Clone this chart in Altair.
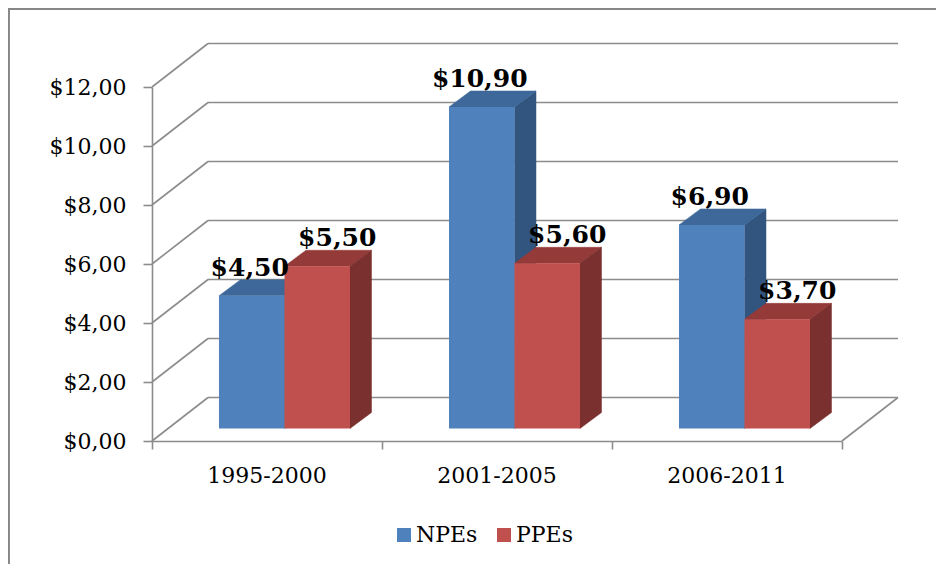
import altair as alt
import pandas as pd

# ---- data ----
categories = ["1995-2000", "2001-2005", "2006-2011"]
series = ["NPEs", "PPEs"]
npes = [4.5, 10.9, 6.9]
ppes = [5.5, 5.6, 3.7]
y_ticks = [0, 2, 4, 6, 8, 10, 12]

# ---- style constants ----
W, H = 690, 354
YMAX = 12
NCAT = len(categories)
PXX = W / NCAT          # px per category unit
PXY = H / YMAX          # px per value unit

BAR_W = 65.5 / PXX
GAP = (1 - 2 * BAR_W) / 2
BAR_OX = 17.5 / PXX
BAR_OY = 12.5 / PXY
BAR_DX = 21.5 / PXX
BAR_DY = 16.0 / PXY
WALL_DX = 56.0 / PXX
WALL_DY = 43.5 / PXY

FRONT = {"NPEs": "#4F81BD", "PPEs": "#C0504D"}
TOP = {"NPEs": "#3E6899", "PPEs": "#943A38"}
SIDE = {"NPEs": "#31557F", "PPEs": "#7A302E"}
GRID = "#8c8c8c"
FONT = "DejaVu Serif"

values = {"NPEs": npes, "PPEs": ppes}

# ---- derived tables ----
bar_rows, depth_rows = [], []
for ci, cat in enumerate(categories):
    for si, s in enumerate(series):
        v = values[s][ci]
        xl = ci + GAP + si * BAR_W + BAR_OX
        xr = xl + BAR_W
        bot = BAR_OY
        top = BAR_OY + v
        bid = f"{s}-{ci}"
        bar_rows.append(dict(id=bid, series=s, cat=cat, v=v, xl=xl, xr=xr,
                             bot=bot, top=top, xc=(xl + xr) / 2))
        for k in (0, 1):
            depth_rows.append(dict(id=bid, series=s, k=k,
                                   tx=xl + k * BAR_DX, tx2=xr + k * BAR_DX,
                                   ty=top + k * BAR_DY,
                                   sx=xr + k * BAR_DX,
                                   sy=top + k * BAR_DY, sy2=bot + k * BAR_DY))
bars = pd.DataFrame(bar_rows)
depth = pd.DataFrame(depth_rows)

grid = pd.DataFrame({"v": y_ticks})
grid["vb"] = grid["v"] + WALL_DY
grid["x0"] = 0.0
grid["xw"] = WALL_DX
grid["xe"] = NCAT + WALL_DX

floor_edge = pd.DataFrame({"x": [float(NCAT)], "x2": [NCAT + WALL_DX],
                           "y": [0.0], "y2": [WALL_DY]})
cats = pd.DataFrame({"cat": categories,
                     "xc": [i + 0.5 for i in range(NCAT)],
                     "y": [0.0] * NCAT})

xs = alt.Scale(domain=[0, NCAT], nice=False, zero=False)
ys = alt.Scale(domain=[0, YMAX], nice=False, zero=False)

AX = alt.Axis(values=list(range(NCAT + 1)), labels=False, title=None,
              grid=False, tickSize=8, tickColor=GRID, tickWidth=1.6,
              domainColor=GRID, domainWidth=1.6)
AY = alt.Axis(values=y_ticks, title=None, grid=False, domain=True,
              domainColor=GRID, domainWidth=1.6,
              tickSize=9, tickColor=GRID, tickWidth=1.6,
              labelExpr="'$' + replace(format(datum.value, '.2f'), '.', ',')",
              labelFont=FONT, labelFontSize=22, labelColor="black",
              labelPadding=17)


def X(f):
    return alt.X(f, scale=xs, axis=AX)


def Y(f):
    return alt.Y(f, scale=ys, axis=AY)


# ---- layers ----
grid_diag = alt.Chart(grid).mark_rule(color=GRID, strokeWidth=1.6).encode(
    x=X("x0:Q"), x2="xw:Q", y=Y("v:Q"), y2="vb:Q")
grid_back = alt.Chart(grid).mark_rule(color=GRID, strokeWidth=1.6).encode(
    x=X("xw:Q"), x2="xe:Q", y=Y("vb:Q"))
floor_right = alt.Chart(floor_edge).mark_rule(color=GRID, strokeWidth=1.6).encode(
    x=X("x:Q"), x2="x2:Q", y=Y("y:Q"), y2="y2:Q")


def side_layer(s):
    return alt.Chart(depth).transform_filter(alt.datum.series == s).mark_area(
        orient="vertical", interpolate="linear", fill=SIDE[s],
        stroke=SIDE[s], strokeWidth=0.5
    ).encode(x=X("sx:Q"), y=Y("sy:Q"), y2="sy2:Q", detail="id:N")


def top_layer(s):
    return alt.Chart(depth).transform_filter(alt.datum.series == s).mark_area(
        orient="horizontal", interpolate="linear", fill=TOP[s],
        stroke=TOP[s], strokeWidth=0.5
    ).encode(y=Y("ty:Q"), x=X("tx:Q"), x2="tx2:Q", detail="id:N")


front = alt.Chart(bars).mark_rect().encode(
    x=X("xl:Q"), x2="xr:Q", y=Y("top:Q"), y2="bot:Q",
    color=alt.Color("series:N",
                    scale=alt.Scale(domain=series, range=[FRONT[s] for s in series]),
                    legend=alt.Legend(orient="none", legendX=241, legendY=437,
                                      direction="horizontal", title=None,
                                      symbolType="square", symbolSize=196,
                                      symbolStrokeWidth=0, labelFont=FONT,
                                      labelFontSize=22, labelColor="black",
                                      labelOffset=1, columnPadding=15, padding=0)),
)

label_calc = "'$' + replace(format(datum.v, '.2f'), '.', ',')"


def label_layer(s, dx):
    return alt.Chart(bars).transform_filter(alt.datum.series == s).transform_calculate(
        label=label_calc).mark_text(
        font=FONT, fontSize=25, fontWeight="bold", color="black",
        baseline="alphabetic", align="center", dy=-20, dx=dx
    ).encode(x=X("xc:Q"), y=Y("top:Q"), text="label:N")


cat_labels = alt.Chart(cats).mark_text(
    font=FONT, fontSize=22, color="black", baseline="alphabetic", align="center", dy=42
).encode(x=X("xc:Q"), y=Y("y:Q"), text="cat:N")

frame_df = pd.DataFrame({"f": [0]})
frame_left = alt.Chart(frame_df).mark_rule(color="#878787", strokeWidth=2.5).encode(
    x=alt.value(-143.3), y=alt.value(-80), y2=alt.value(600))
frame_top = alt.Chart(frame_df).mark_rule(color="#878787", strokeWidth=2.2).encode(
    x=alt.value(-145), x2=alt.value(900), y=alt.value(-78))

chart = alt.layer(
    grid_diag, grid_back, floor_right,
    side_layer("NPEs"), top_layer("NPEs"),
    top_layer("PPEs"), side_layer("PPEs"),
    front,
    label_layer("NPEs", -2), label_layer("PPEs", 20),
    cat_labels,
    frame_left, frame_top,
).properties(
    width=W, height=H,
    autosize=alt.AutoSizeParams(type="none"),
    padding={"left": 144, "top": 79, "right": 94, "bottom": 123},
    background="white",
).configure_view(stroke=None)

chart.save("out.html", embed_options={"renderer": "svg", "actions": False})
